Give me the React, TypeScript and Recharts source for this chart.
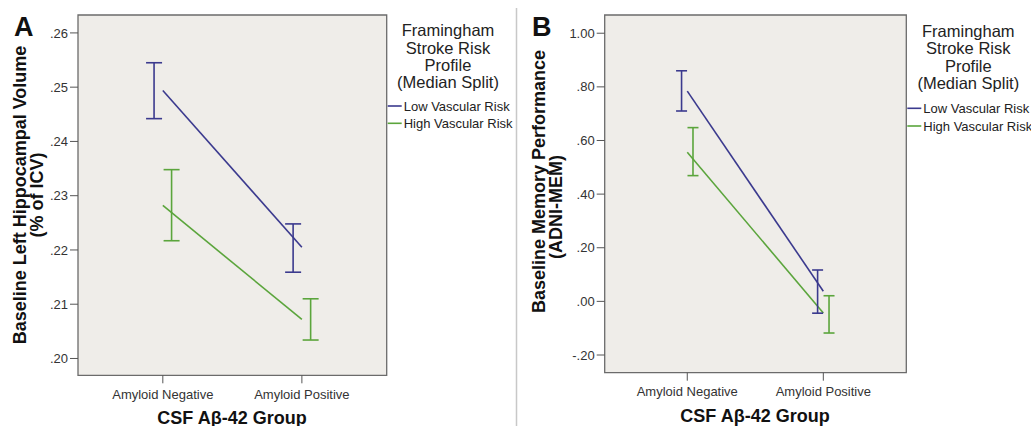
import React from 'react';
import { ComposedChart, Line, Scatter, ErrorBar, XAxis, YAxis, ReferenceArea } from 'recharts';

const categories = ['Amyloid Negative', 'Amyloid Positive'];
const seriesNames = ['Low Vascular Risk', 'High Vascular Risk'];
const legendTitle = ['Framingham', 'Stroke Risk', 'Profile', '(Median Split)'];
const xTitle = 'CSF Aβ-42 Group';

// Panel A: left hippocampal volume (% of ICV)
const hippoTicks = [0.2, 0.21, 0.22, 0.23, 0.24, 0.25, 0.26];
const hippoLowMean = [0.2494, 0.2205];
const hippoLowLower = [0.2442, 0.2159];
const hippoLowUpper = [0.2545, 0.2248];
const hippoHighMean = [0.2282, 0.2072];
const hippoHighLower = [0.2217, 0.2034];
const hippoHighUpper = [0.2348, 0.211];

// Panel B: memory performance (ADNI-MEM)
const memTicks = [-0.2, 0, 0.2, 0.4, 0.6, 0.8, 1.0];
const memLowMean = [0.784, 0.038];
const memLowLower = [0.71, -0.044];
const memLowUpper = [0.86, 0.117];
const memHighMean = [0.556, -0.043];
const memHighLower = [0.469, -0.118];
const memHighUpper = [0.648, 0.021];

const COLORS = ['#3b3a8e', '#5ba53c'];
const FONT = '"Liberation Sans", Arial, sans-serif';
const TEXT = '#222';
const Y_AXIS_W = 60;
const X_AXIS_H = 30;

const fmt = (v: number) => {
  const s = Math.abs(v).toFixed(2).replace(/^0/, '');
  return v < -1e-9 ? '-' + s : s;
};

interface PanelProps {
  left: number;
  width: number;
  // plot frame inside the panel, in px
  plot: { top: number; right: number; bottom: number; left: number };
  xDomain: [number, number];
  yDomain: [number, number];
  yTicks: number[];
  means: number[][];
  lowers: number[][];
  uppers: number[][];
  dodge: number;
  cap: number;
}

const Panel: React.FC<PanelProps> = ({ left, width, plot, xDomain, yDomain, yTicks, means, lowers, uppers, dodge, cap }) => {
  const tickStyle = { fill: '#333', fontSize: 13, fontFamily: FONT };
  const margin = {
    top: plot.top,
    left: plot.left - Y_AXIS_W,
    right: width - plot.right,
    bottom: 426 - plot.bottom - X_AXIS_H,
  };
  return (
    <div style={{ position: 'absolute', left, top: 0 }}>
      <ComposedChart width={width} height={426} margin={margin}>
        <XAxis
          type="number"
          dataKey="x"
          domain={xDomain}
          ticks={[0, 1]}
          interval={0}
          allowDataOverflow
          tickFormatter={(v: number) => categories[v]}
          height={X_AXIS_H}
          axisLine={false}
          tickSize={8}
          tickMargin={6}
          tick={tickStyle}
          tickLine={{ stroke: '#555' }}
        />
        <YAxis
          type="number"
          dataKey="y"
          domain={yDomain}
          ticks={yTicks}
          interval={0}
          allowDataOverflow
          tickFormatter={fmt}
          width={Y_AXIS_W}
          axisLine={false}
          tickSize={8}
          tickMargin={2}
          tick={tickStyle}
          tickLine={{ stroke: '#555' }}
        />
        <ReferenceArea
          x1={xDomain[0]}
          x2={xDomain[1]}
          y1={yDomain[0]}
          y2={yDomain[1]}
          fill="#efede9"
          fillOpacity={1}
          stroke="#6b6b6b"
          strokeWidth={1.3}
        />
        {means.map((m, s) => (
          <Line
            key={'l' + s}
            data={m.map((y, i) => ({ x: i, y }))}
            dataKey="y"
            stroke={COLORS[s]}
            strokeWidth={1.6}
            dot={false}
            activeDot={false}
            isAnimationActive={false}
          />
        ))}
        {means.map((m, s) => (
          <Scatter
            key={'e' + s}
            data={m.map((y, i) => ({
              x: i + (s === 0 ? -dodge : dodge),
              y,
              err: [y - lowers[s][i], uppers[s][i] - y],
            }))}
            dataKey="y"
            shape={() => <g />}
            isAnimationActive={false}
          >
            <ErrorBar dataKey="err" direction="y" width={cap} stroke={COLORS[s]} strokeWidth={1.6} isAnimationActive={false} />
          </Scatter>
        ))}
      </ComposedChart>
    </div>
  );
};

const Legend: React.FC<{ cx: number; titleY: number[]; lineX: number; itemY: number[] }> = ({ cx, titleY, lineX, itemY }) => (
  <g fontFamily={FONT} fill={TEXT}>
    {legendTitle.map((t, i) => (
      <text key={t} x={cx} y={titleY[i]} textAnchor="middle" dominantBaseline="central" fontSize={16.5}>
        {t}
      </text>
    ))}
    {seriesNames.map((n, i) => (
      <g key={n}>
        <line x1={lineX} x2={lineX + 14} y1={itemY[i]} y2={itemY[i]} stroke={COLORS[i]} strokeWidth={1.6} />
        <text x={lineX + 16} y={itemY[i]} dominantBaseline="central" fontSize={13}>
          {n}
        </text>
      </g>
    ))}
  </g>
);

export default function App() {
  return (
    <div style={{ position: 'absolute', left: 0, top: 0, width: 1031, height: 426, background: '#fff', overflow: 'hidden' }}>
      <Panel
        left={0}
        width={520}
        plot={{ top: 15, left: 78, right: 386.7, bottom: 375.3 }}
        xDomain={[-0.61, 1.61]}
        yDomain={[0.1969, 0.2633]}
        yTicks={hippoTicks}
        means={[hippoLowMean, hippoHighMean]}
        lowers={[hippoLowLower, hippoHighLower]}
        uppers={[hippoLowUpper, hippoHighUpper]}
        dodge={0.063}
        cap={8}
      />
      <Panel
        left={516}
        width={515}
        plot={{ top: 15, left: 88.7, right: 390.3, bottom: 372.7 }}
        xDomain={[-0.607, 1.61]}
        yDomain={[-0.266, 1.068]}
        yTicks={memTicks}
        means={[memLowMean, memHighMean]}
        lowers={[memLowLower, memHighLower]}
        uppers={[memLowUpper, memHighUpper]}
        dodge={0.042}
        cap={5.5}
      />
      <svg width={1031} height={426} style={{ position: 'absolute', left: 0, top: 0, pointerEvents: 'none' }}>
        <line x1={516.5} x2={516.5} y1={8} y2={426} stroke="#c8c8c8" strokeWidth={1.5} />
        <g fontFamily={FONT} fill="#111" fontWeight="bold">
          <text x={14} y={36} fontSize={27}>A</text>
          <text x={532} y={36} fontSize={27}>B</text>
          <text transform="translate(20,195) rotate(-90)" textAnchor="middle" dominantBaseline="central" fontSize={18}>
            Baseline Left Hippocampal Volume
          </text>
          <text transform="translate(37,195) rotate(-90)" textAnchor="middle" dominantBaseline="central" fontSize={18}>
            (% of ICV)
          </text>
          <text transform="translate(539,181.5) rotate(-90)" textAnchor="middle" dominantBaseline="central" fontSize={18}>
            Baseline Memory Performance
          </text>
          <text transform="translate(555.5,207) rotate(-90)" textAnchor="middle" dominantBaseline="central" fontSize={18}>
            (ADNI-MEM)
          </text>
          <text x={232} y={417.5} textAnchor="middle" dominantBaseline="central" fontSize={18}>
            {xTitle}
          </text>
          <text x={755} y={416} textAnchor="middle" dominantBaseline="central" fontSize={18}>
            {xTitle}
          </text>
        </g>
        <Legend cx={448} titleY={[30, 47.7, 64.5, 82.3]} lineX={387.7} itemY={[106, 123.3]} />
        <Legend cx={968.3} titleY={[30.7, 48.3, 65.7, 83.3]} lineX={907.3} itemY={[108.3, 126]} />
      </svg>
    </div>
  );
}
